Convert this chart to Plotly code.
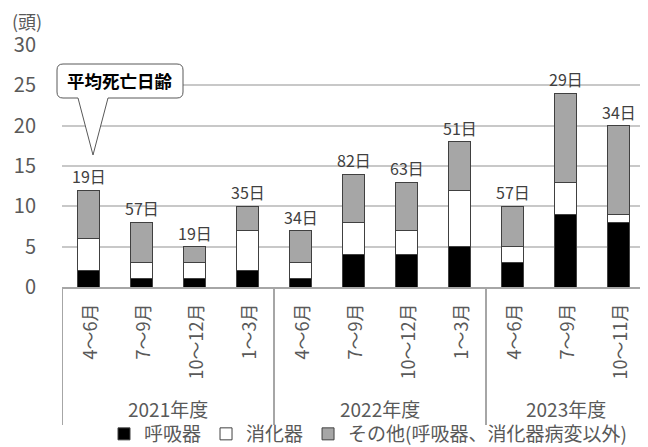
import plotly.graph_objects as go

years = ["2021年度", "2022年度", "2023年度"]
periods = ["4～6月", "7～9月", "10～12月", "1～3月",
           "4～6月", "7～9月", "10～12月", "1～3月",
           "4～6月", "7～9月", "10～11月"]
year_of_bar = [0, 0, 0, 0, 1, 1, 1, 1, 2, 2, 2]
respiratory = [2, 1, 1, 2, 1, 4, 4, 5, 3, 9, 8]
digestive = [4, 2, 2, 5, 2, 4, 3, 7, 2, 4, 1]
other = [6, 5, 2, 3, 4, 6, 6, 6, 5, 11, 11]
avg_age_days = [19, 57, 19, 35, 34, 82, 63, 51, 57, 29, 34]
series_names = ["呼吸器", "消化器", "その他(呼吸器、消化器病変以外)"]
y_ticks = [0, 5, 10, 15, 20, 25, 30]
callout_text = "平均死亡日齢"
unit_text = "(頭)"

FONT = "Noto Sans CJK JP"
OFF = 8  # page body margin of the html page
W, H = 648 - OFF, 447 - OFF
ML, MR, MT, MB = 62 - OFF, 3, 45 - OFF, 160
PW, PH = W - ML - MR, H - MT - MB


def px(X):
    return (X - OFF - ML) / PW


def py(Y):
    return (H - MB - (Y - OFF)) / PH


xs = list(range(len(periods)))

fig = go.Figure()
fills = ["#000000", "#FFFFFF", "#A6A6A6"]
for name, vals, col in zip(series_names, [respiratory, digestive, other], fills):
    fig.add_trace(go.Bar(
        x=xs, y=vals, name=name,
        marker=dict(color=col, line=dict(color="#404040", width=1)),
        width=0.42,
    ))

totals = [a + b + c for a, b, c in zip(respiratory, digestive, other)]
annotations = []
for x, t, d in zip(xs, totals, avg_age_days):
    annotations.append(dict(
        x=x, y=t, xref="x", yref="y", text=f"{d}日", showarrow=False,
        yanchor="bottom", yshift=0,
        font=dict(family=FONT, size=16, color="#404040"),
    ))

# rotated period labels
for x, p in zip(xs, periods):
    annotations.append(dict(
        x=x, y=py(302), xref="x", yref="paper", text=p, showarrow=False,
        textangle=-90, yanchor="top", xanchor="center",
        font=dict(family=FONT, size=18, color="#595959"),
    ))

# year labels
for i, yr in enumerate(years):
    idx = [x for x, g in zip(xs, year_of_bar) if g == i]
    annotations.append(dict(
        x=(idx[0] + idx[-1]) / 2, y=py(408), xref="x", yref="paper",
        text=yr, showarrow=False, yanchor="middle",
        font=dict(family=FONT, size=19, color="#595959"),
    ))

annotations.append(dict(
    x=px(10), y=py(21), xref="paper", yref="paper", text=unit_text,
    showarrow=False, xanchor="left", yanchor="middle",
    font=dict(family=FONT, size=18, color="#595959"),
))
annotations.append(dict(
    x=px(120), y=py(81), xref="paper", yref="paper",
    text=f"<b>{callout_text}</b>", showarrow=False,
    xanchor="center", yanchor="middle",
    font=dict(family=FONT, size=17.5, color="#000000"),
))

shapes = []
# dividers for group axis
bounds = [-0.5]
for i in range(len(years)):
    idx = [x for x, g in zip(xs, year_of_bar) if g == i]
    bounds.append(idx[-1] + 0.5)
for b in bounds:
    shapes.append(dict(type="line", xref="x", yref="paper", x0=b, x1=b,
                       y0=0, y1=py(425), line=dict(color="#A6A6A6", width=2)))

# callout bubble
x0, x1, y0, y1, r = 57, 183, 64, 98, 6
tx0, tip_x, tx1, tip_y = 78, 93, 108, 155


def P(X, Y):
    return f"{px(X)},{py(Y)}"


path = (f"M {P(x0 + r, y0)} L {P(x1 - r, y0)} Q {P(x1, y0)} {P(x1, y0 + r)} "
        f"L {P(x1, y1 - r)} Q {P(x1, y1)} {P(x1 - r, y1)} "
        f"L {P(tx1, y1)} L {P(tip_x, tip_y)} L {P(tx0, y1)} "
        f"L {P(x0 + r, y1)} Q {P(x0, y1)} {P(x0, y1 - r)} "
        f"L {P(x0, y0 + r)} Q {P(x0, y0)} {P(x0 + r, y0)} Z")
shapes.append(dict(type="path", xref="paper", yref="paper", path=path,
                   fillcolor="#FFFFFF", line=dict(color="#595959", width=1)))

fig.update_layout(
    width=W, height=H,
    margin=dict(l=ML, r=MR, t=MT, b=MB, autoexpand=False),
    barmode="stack",
    plot_bgcolor="#FFFFFF", paper_bgcolor="#FFFFFF",
    font=dict(family=FONT, color="#595959"),
    xaxis=dict(range=[-0.5, len(xs) - 0.5], showticklabels=False,
               showgrid=False, zeroline=False, showline=True,
               linecolor="#A6A6A6", linewidth=2, ticks=""),
    yaxis=dict(range=[0, 30], tickvals=y_ticks, showgrid=True,
               gridcolor="#C8C8C8", gridwidth=2, zeroline=False,
               showline=False, ticks="outside", ticklen=21,
               tickcolor="rgba(0,0,0,0)",
               tickfont=dict(family=FONT, size=20, color="#595959")),
    legend=dict(orientation="h", x=px(368), y=py(434), xanchor="center",
                yanchor="middle", traceorder="normal",
                font=dict(family=FONT, size=19, color="#595959"),
                bgcolor="rgba(0,0,0,0)", itemwidth=30, tracegroupgap=0),
    showlegend=True,
    annotations=annotations,
    shapes=shapes,
)

fig.write_html("out.html")
